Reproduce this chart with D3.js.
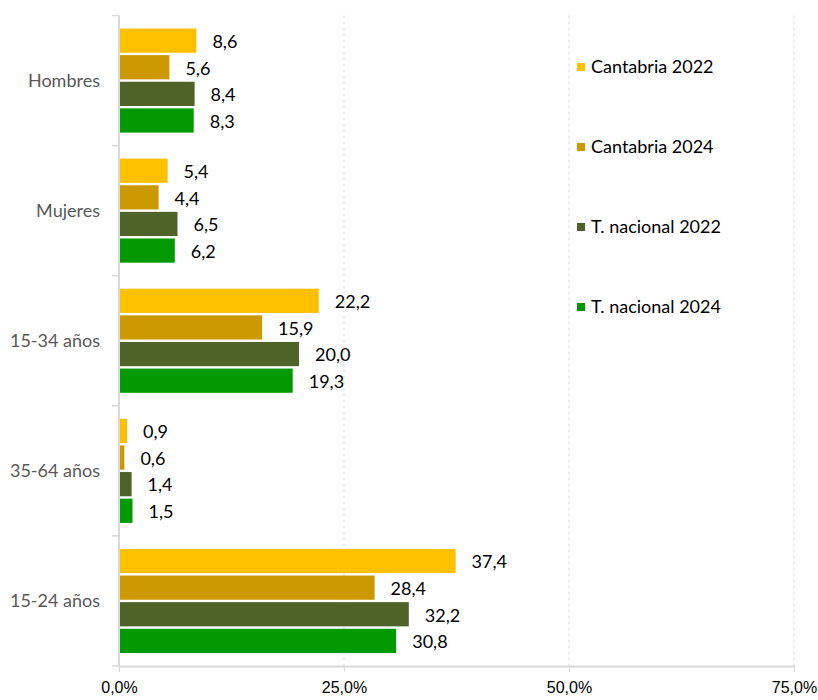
<!DOCTYPE html>
<meta charset="utf-8">
<style>
body { margin: 0; background: #fff; }
svg { font-family: Lato, "Open Sans", sans-serif; }
.axis path, .axis line { stroke: #d9d9d9; }
.grid line { stroke: #d9d9d9; stroke-dasharray: 3,3; }
</style>
<svg width="818" height="700" class="top"></svg>
<script src="https://d3js.org/d3.v7.min.js"></script>
<script>

var categories = ["Hombres", "Mujeres", "15-34 años", "35-64 años", "15-24 años"];
var seriesNames = ["Cantabria 2022", "Cantabria 2024", "T. nacional 2022", "T. nacional 2024"];
var cantabria2022 = [8.6, 5.4, 22.2, 0.9, 37.4];
var cantabria2024 = [5.6, 4.4, 15.9, 0.6, 28.4];
var nacional2022 = [8.4, 6.5, 20.0, 1.4, 32.2];
var nacional2024 = [8.3, 6.2, 19.3, 1.5, 30.8];
var xTicks = [0, 25, 50, 75];
var colors = ["#ffc000", "#cc9a00", "#4f6228", "#009900"];

var seriesValues = [cantabria2022, cantabria2024, nacional2022, nacional2024];

var svg = d3.select(".top"),
    margin = {top: 15.5, right: 24, bottom: 34, left: 119},
    width = +svg.attr("width") - margin.left - margin.right,
    height = +svg.attr("height") - margin.top - margin.bottom,
    g = svg.append("g").attr("transform", "translate(" + margin.left + "," + margin.top + ")");

var x = d3.scaleLinear().domain([0, 75]).range([0, width]);

var y0 = d3.scaleBand()
    .domain(categories)
    .range([0, height])
    .paddingInner(0.2)
    .paddingOuter(0.1);

var y1 = d3.scaleBand()
    .domain(seriesNames)
    .range([0, y0.bandwidth()])
    .paddingInner(0.09);

// gridlines
g.append("g")
    .attr("class", "grid")
  .selectAll("line")
  .data(xTicks.slice(1))
  .enter().append("line")
    .attr("x1", function(d) { return x(d); })
    .attr("x2", function(d) { return x(d); })
    .attr("y1", 0)
    .attr("y2", height);

var rows = categories.map(function(c, i) {
  return {cat: c, values: seriesNames.map(function(s, j) { return {key: s, idx: j, value: seriesValues[j][i]}; })};
});

var group = g.selectAll(".cat")
  .data(rows)
  .enter().append("g")
    .attr("class", "cat")
    .attr("transform", function(d) { return "translate(0," + y0(d.cat) + ")"; });

group.selectAll("rect")
  .data(function(d) { return d.values; })
  .enter().append("rect")
    .attr("x", x(0) + 1)
    .attr("y", function(d) { return y1(d.key); })
    .attr("height", y1.bandwidth())
    .attr("width", function(d) { return x(d.value) - x(0) - 1; })
    .attr("fill", function(d) { return colors[d.idx]; });

group.selectAll("text")
  .data(function(d) { return d.values; })
  .enter().append("text")
    .attr("x", function(d) { return x(d.value) + 16; })
    .attr("y", function(d) { return y1(d.key) + y1.bandwidth() / 2 + 1; })
    .attr("dy", "0.35em")
    .style("font-size", "18px")
    .attr("fill", "#000")
    .text(function(d) { return d3.format(".1f")(d.value).replace(".", ","); });

// x axis
var xAxis = g.append("g")
    .attr("class", "axis axis--x")
    .attr("transform", "translate(0," + height + ")")
    .call(d3.axisBottom(x).tickValues(xTicks).tickSize(6).tickSizeOuter(0)
      .tickFormat(function(d) { return d3.format(".1f")(d).replace(".", ",") + "%"; }));
xAxis.select(".domain").attr("stroke-width", 2);
xAxis.selectAll("text")
    .attr("fill", "#000")
    .attr("dy", "1.1em")
    .style("font-size", "16px");

// y axis with ticks at category boundaries
var yAxis = g.append("g").attr("class", "axis axis--y");
yAxis.append("line")
    .attr("x1", 0).attr("x2", 0)
    .attr("y1", 0).attr("y2", height)
    .attr("stroke-width", 2);
var bounds = categories.map(function(c) { return y0(c) - y0.step() * y0.paddingInner() / 2; });
bounds[0] = 0;
bounds.push(height);
yAxis.selectAll(".tk")
  .data(bounds)
  .enter().append("line")
    .attr("class", "tk")
    .attr("x1", -7).attr("x2", 0)
    .attr("y1", function(d) { return d; })
    .attr("y2", function(d) { return d; })
    .attr("stroke-width", 1.5);
yAxis.selectAll("text")
  .data(categories)
  .enter().append("text")
    .attr("x", -19)
    .attr("y", function(d) { return y0(d) + y0.bandwidth() / 2; })
    .attr("dy", "0.35em")
    .attr("text-anchor", "end")
    .attr("fill", "#595959")
    .style("font-size", "18px")
    .text(function(d) { return d; });

// legend
var legend = svg.selectAll(".legend")
  .data(seriesNames)
  .enter().append("g")
    .attr("class", "legend")
    .attr("transform", function(d, i) { return "translate(577," + (67 + i * 80) + ")"; });

legend.append("rect")
    .attr("x", 0)
    .attr("y", -4)
    .attr("width", 8)
    .attr("height", 8)
    .attr("fill", function(d, i) { return colors[i]; });

legend.append("text")
    .attr("x", 14)
    .attr("dy", "0.35em")
    .attr("fill", "#000")
    .style("font-size", "18px")
    .text(function(d) { return d; });

</script>
